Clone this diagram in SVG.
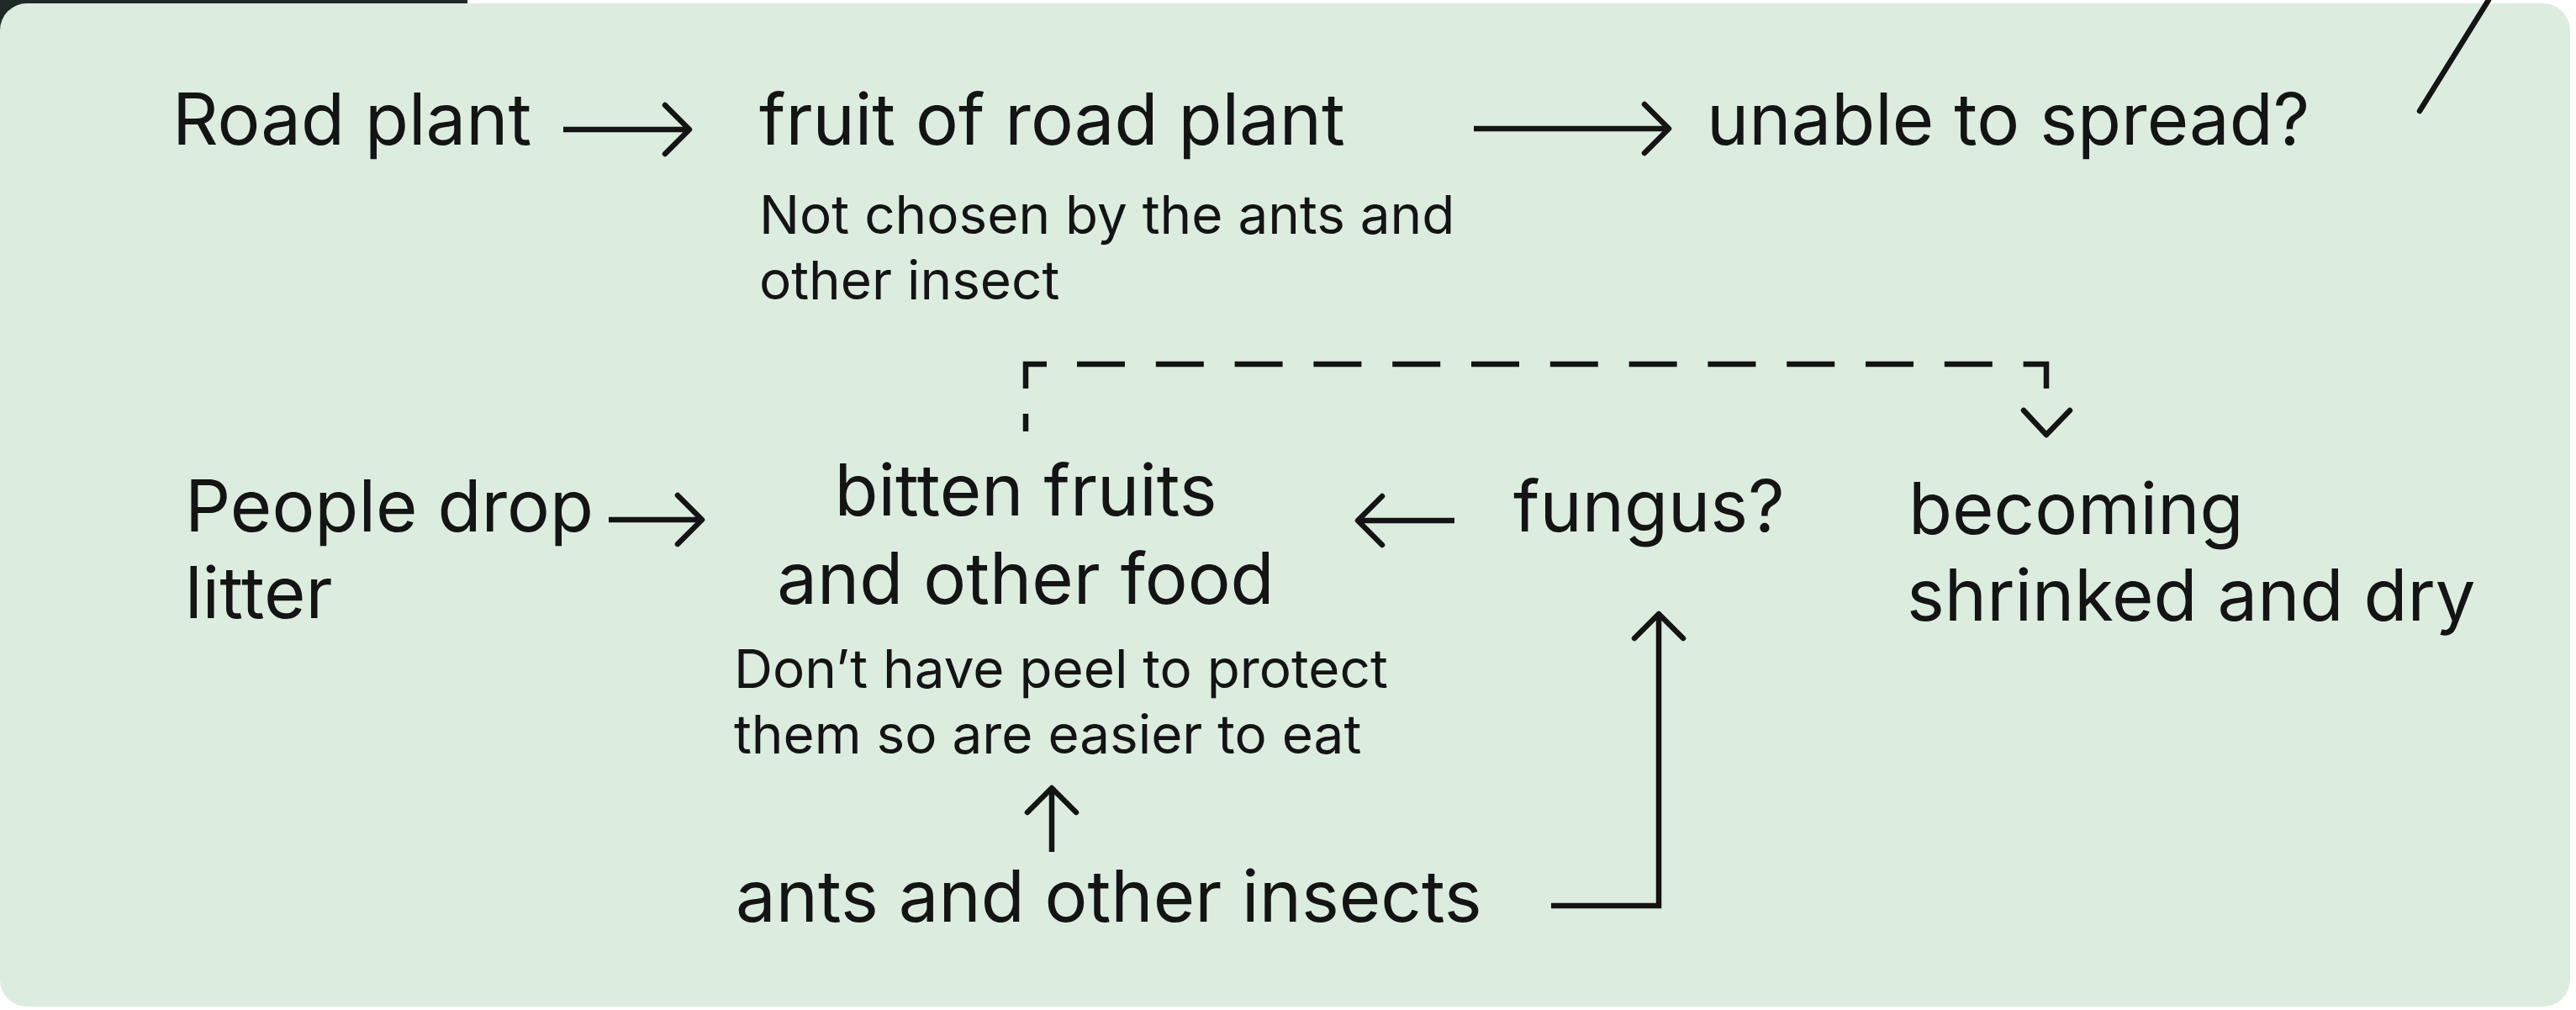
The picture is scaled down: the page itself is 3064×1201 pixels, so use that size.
<svg xmlns="http://www.w3.org/2000/svg" width="3064" height="1201" viewBox="0 0 3064 1201">
  <defs>
    <marker id="head" markerUnits="userSpaceOnUse" viewBox="-40 -40 80 80" markerWidth="80" markerHeight="80" refX="0" refY="0" orient="auto" overflow="visible">
      <path d="M-29,-29 L0,0 L-29,29" fill="none" stroke="#141414" stroke-width="6.5" stroke-linecap="round" stroke-linejoin="round"/>
    </marker>
  </defs>
  <style>
    .big { font-family: Inter, "Liberation Sans", sans-serif; font-size: 85px; fill: #141414; }
    .small { font-family: Inter, "Liberation Sans", sans-serif; font-size: 63.8px; fill: #141414; }
    .conn { fill: none; stroke: #141414; stroke-width: 6.5; }
    .arrow { marker-end: url(#head); }
  </style>
  <rect x="0" y="0" width="3064" height="1201" fill="#ffffff"/>
  <rect x="0" y="0" width="556" height="46" fill="#1f2926"/>
  <rect id="panel" x="0" y="4" width="3057" height="1193" rx="32" fill="#dcede0"/>

  <g id="connectors">
    <path class="conn arrow" d="M670,154 H820"/>
    <path class="conn arrow" d="M1753,153 H1985"/>
    <path class="conn arrow" d="M724,618 H835"/>
    <path class="conn arrow" d="M1730,619 H1615"/>
    <path class="conn arrow" d="M1251,1013 V937"/>
    <path class="conn arrow" d="M1845,1077 H1973 V730"/>
    <path class="conn" d="M1220,513 V492 M1220,462 V433 H1245 M2407,433 H2434 V462"/>
    <path class="conn" d="M1281,433 H2407" stroke-dasharray="57 36.8"/>
    <path class="conn" d="M2407,488 L2434,517 L2462,488" stroke-linecap="round" stroke-linejoin="round"/>
    <path class="conn" d="M2960,0 L2878,132" stroke-linecap="round" stroke-width="6"/>
  </g>

  <g id="road-plant"><text class="big" x="205" y="172">Road plant</text></g>
  <g id="fruit-of-road-plant">
    <text class="big" x="903" y="172">fruit of road plant</text>
    <text class="small" x="903" y="278">Not chosen by the ants and</text>
    <text class="small" x="903" y="356">other insect</text>
  </g>
  <g id="unable-to-spread"><text class="big" x="2030" y="172">unable to spread?</text></g>
  <g id="people-drop-litter">
    <text class="big" x="220" y="632">People drop</text>
    <text class="big" x="220" y="735">litter</text>
  </g>
  <g id="bitten-fruits">
    <text class="big" x="1220" y="613" text-anchor="middle">bitten fruits</text>
    <text class="big" x="1220" y="718" text-anchor="middle">and other food</text>
    <text class="small" x="873" y="818">Don’t have peel to protect</text>
    <text class="small" x="873" y="896">them so are easier to eat</text>
  </g>
  <g id="fungus"><text class="big" x="1800" y="632">fungus?</text></g>
  <g id="becoming-shrinked">
    <text class="big" x="2270" y="635">becoming</text>
    <text class="big" x="2268" y="738">shrinked and dry</text>
  </g>
  <g id="ants"><text class="big" x="875" y="1096">ants and other insects</text></g>
</svg>
